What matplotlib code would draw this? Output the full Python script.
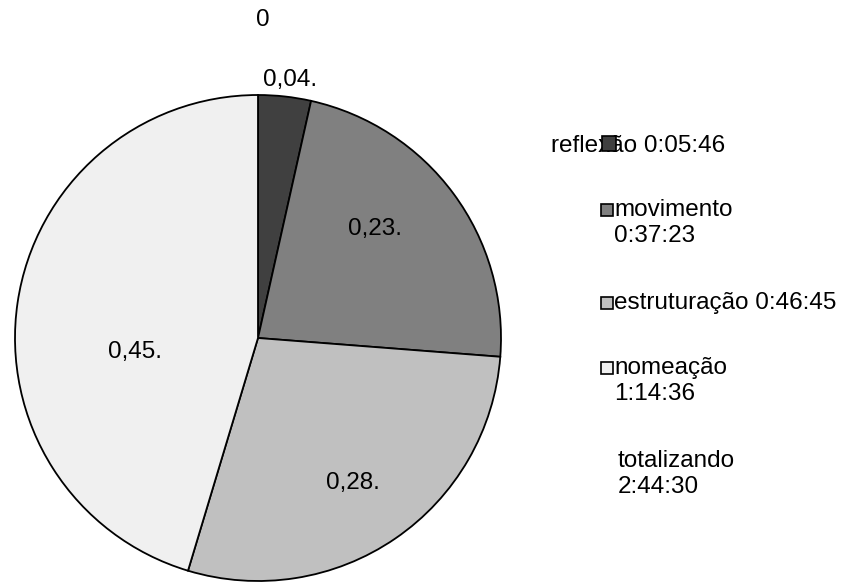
import matplotlib
matplotlib.use("Agg")
import matplotlib.pyplot as plt
from matplotlib.patches import Rectangle
import numpy as np

plt.rcParams['font.family'] = ['Liberation Sans', 'DejaVu Sans']

categories = ["reflexão", "movimento", "estruturação", "nomeação"]
durations = ["0:05:46", "0:37:23", "0:46:45", "1:14:36"]
total_label = "2:44:30"
colors = ["#404040", "#808080", "#c0c0c0", "#f0f0f0"]

def to_sec(s):
    h, m, sec = (int(x) for x in s.split(":"))
    return h * 3600 + m * 60 + sec

values = np.array([to_sec(d) for d in durations], dtype=float)
fracs = values / values.sum()

FS = 17.5
W, H = 846, 583
fig = plt.figure(figsize=(W / 100, H / 100), dpi=100)
cx, cy, R = 258, 338, 243
ax = fig.add_axes([(cx - R) / W, (H - cy - R) / H, 2 * R / W, 2 * R / H])

wedges, _ = ax.pie(values, colors=colors, startangle=90, counterclock=False,
                   radius=1, wedgeprops=dict(edgecolor='black', linewidth=1.3))
ax.set_xlim(-1, 1)
ax.set_ylim(-1, 1)
ax.set_aspect('equal')
ax.axis('off')
for w in wedges:
    w.set_clip_on(False)

label_dist = [1.07, 0.66, 0.715, 0.51]
label_shift = [-0.8, 6.5, -1.2, 15.0]
for w, f, d, s in zip(wedges, fracs, label_dist, label_shift):
    ang = np.deg2rad((w.theta1 + w.theta2) / 2 + s)
    txt = f"{f:.2f}".replace(".", ",") + "."
    ax.text(d * np.cos(ang), d * np.sin(ang), txt, ha='center', va='center',
            fontsize=FS, clip_on=False)

fig.text(263 / W, 1 - 20 / H, "0", ha='center', va='center', fontsize=FS)

def fx(x):
    return x / W

def fy(y):
    return 1 - y / H

sq = 12
fig.text(fx(551), fy(146), f"{categories[0]} {durations[0]}", ha='left', va='center', fontsize=FS)
fig.patches.append(Rectangle((fx(602), fy(143 + 7.5)), 14 / W, 15 / H, transform=fig.transFigure,
                             facecolor=colors[0], edgecolor='black', linewidth=1.2, zorder=10))

entries = [
    (1, 210, f"{categories[1]}\n{durations[1]}"),
    (2, 303, f"{categories[2]} {durations[2]}"),
    (3, 368, f"{categories[3]}\n{durations[3]}"),
]
for i, yc, txt in entries:
    fig.patches.append(Rectangle((fx(601), fy(yc + sq / 2)), sq / W, sq / H, transform=fig.transFigure,
                                 facecolor=colors[i], edgecolor='black', linewidth=1.2))
    fig.text(fx(614), fy(yc - 11), txt, ha='left', va='top', fontsize=FS, linespacing=1.25)

fig.text(fx(618), fy(450), f"totalizando\n{total_label}", ha='left', va='top', fontsize=FS, linespacing=1.25)

fig.savefig("out.png", dpi=100, facecolor='white')
